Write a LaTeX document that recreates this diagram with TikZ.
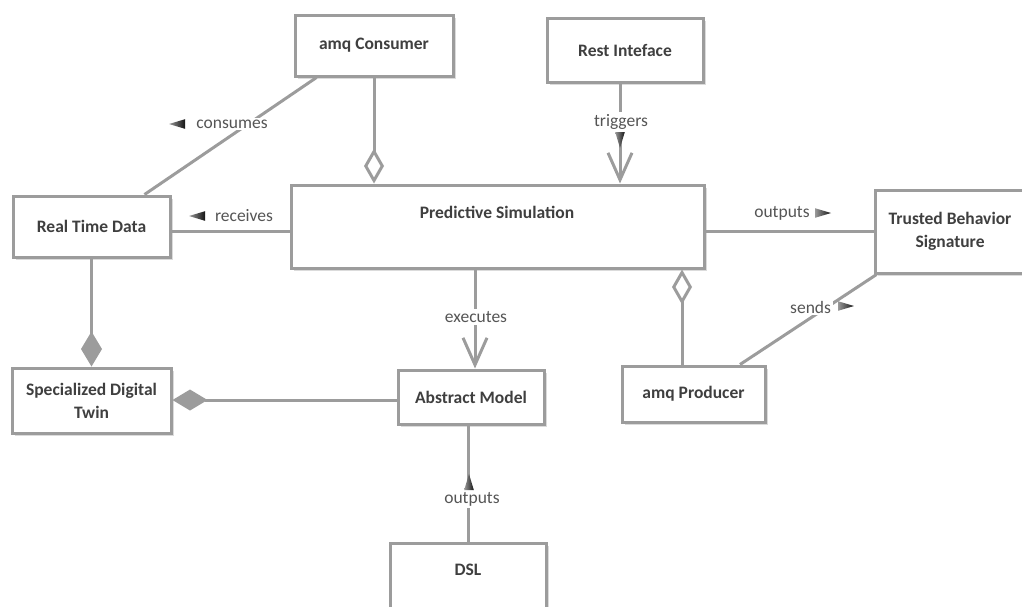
\documentclass[tikz,border=0pt]{standalone}
\usepackage{fontspec}
\setmainfont{Carlito}
\usetikzlibrary{arrows.meta,shadows}
\definecolor{edge}{HTML}{9C9C9C}
\definecolor{ink}{HTML}{3F3F3F}
\definecolor{labelink}{HTML}{555555}
\begin{document}
\begin{tikzpicture}[x=1pt,y=-1pt,
  box/.style={draw=edge, line width=3pt, fill=white, inner sep=0pt,
    font=\fontsize{17.5}{23}\selectfont\bfseries, text=ink, align=center,
    drop shadow={shadow xshift=3pt, shadow yshift=-3pt, opacity=.14, fill=black}},
  title/.style={font=\fontsize{17.5}{23}\selectfont\bfseries, text=ink, inner sep=0pt},
  link/.style={draw=edge, line width=3pt},
  lbl/.style={fill=white, inner sep=2pt, font=\fontsize{17.5}{23}\selectfont, text=labelink},
  open/.style={-{Straight Barb[length=27pt,width=24pt]}},
  agg/.style={-{Diamond[open,length=35pt,width=20pt]}},
  comp/.style={-{Diamond[length=35pt,width=21pt,fill=edge]}},
  marker/.pic={\shade[left color=black!40, right color=black!92]
    (-8,-4.8) -- (8,0) -- (-8,4.8) -- cycle;},
]
\useasboundingbox (0,0) rectangle (1022,606);

% classes
\node[box, minimum width=158pt, minimum height=61pt] (cons) at (374,45.5) {amq Consumer};
\node[box, minimum width=156pt, minimum height=64pt] (rest) at (625,50) {Rest Inteface};
\node[box, minimum width=413pt, minimum height=83pt] (ps) at (497.5,226.5) {};
\node[title] (pstitle) at (497,212) {Predictive Simulation};
\node[box, minimum width=157pt, minimum height=61pt] (rtd) at (91.5,226.5) {Real Time Data};
\node[box, minimum width=150pt, minimum height=83pt] (tbs) at (950,231.5) {Trusted Behavior\\Signature};
\node[box, minimum width=159pt, minimum height=65pt] (sdt) at (91.5,400.5) {Specialized Digital\\Twin};
\node[box, minimum width=146pt, minimum height=54pt] (am) at (471,397) {Abstract Model};
\node[box, minimum width=143pt, minimum height=56pt] (prod) at (693.5,394) {amq Producer};
\node[box, minimum width=156pt, minimum height=80pt] (dsl) at (468,583) {};
\node[title] (dsltitle) at (468,570) {DSL};

% associations
\draw[link, agg] (cons.south) -- (cons.south |- ps.north);
\draw[link] ([xshift=23pt]cons.south west) -- ([xshift=-27pt]rtd.north east);
\draw[link, open] ([xshift=-5pt]rest.south) -- ([xshift=-5pt]rest.south |- ps.north);
\draw[link] ([yshift=-4.5pt]ps.west) -- ([yshift=-4.5pt]ps.west -| rtd.east);
\draw[link] ([yshift=-4.5pt]ps.east) -- ([yshift=-4.5pt]ps.east -| tbs.west);
\draw[link, open] ([xshift=4pt]am.north |- ps.south) -- ([xshift=4pt]am.north);
\draw[link, agg] ([xshift=-11.5pt]prod.north) -- ([xshift=-11.5pt]prod.north |- ps.south);
\draw[link] ([xshift=46.5pt]prod.north) -- ([xshift=3pt]tbs.south west);
\draw[link, comp] (rtd.south) -- (sdt.north);
\draw[link, comp] ([yshift=-3pt]am.west) -- ([yshift=-3pt]am.west -| sdt.east);
\draw[link] ([xshift=-3pt]am.south) -- ([xshift=-3pt]am.south |- dsl.north);

% association labels with direction markers
\node[lbl] (lcons) at (232,124) {consumes};
\pic[rotate=180] at (177,124) {marker};
\node[lbl] (lrecv) at (244,216) {receives};
\pic[rotate=180] at (197,216) {marker};
\node[lbl] (ltrig) at (621,122) {triggers};
\pic[rotate=-90] at (620,140) {marker};
\node[lbl] (lout) at (782,213) {outputs};
\pic at (823,213) {marker};
\node[lbl, anchor=west] (lsend) at (788,307) {sends\hspace{24pt}};
\pic at (846,306) {marker};
\node[lbl] (lexec) at (476,317) {executes};
\node[lbl] (ldsl) at (472,499) {outputs};
\pic[rotate=90] at (469,482) {marker};
\end{tikzpicture}
\end{document}
